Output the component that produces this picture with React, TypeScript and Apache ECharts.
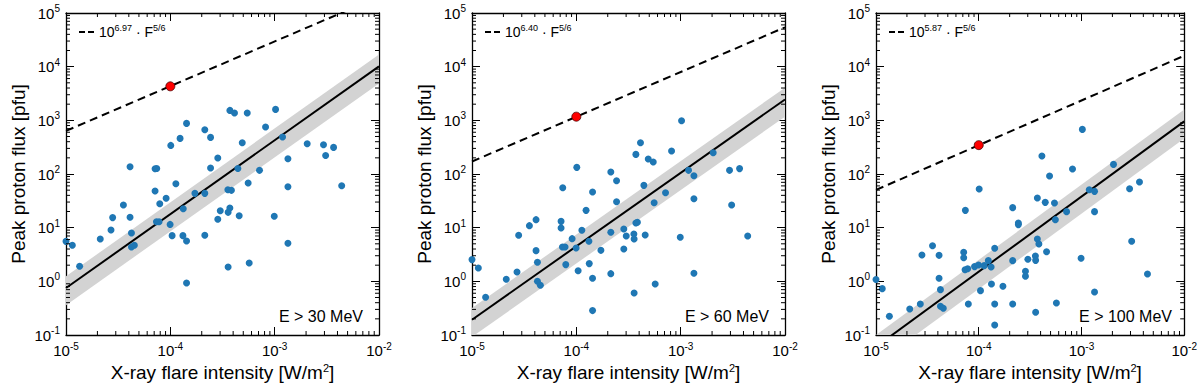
import React, { useEffect, useRef } from "react";
import * as echarts from "echarts";

// ---- Data ----
const flareIntensity = [
  1.0e-5, 1.15e-5, 1.35e-5, 2.13e-5, 2.7e-5, 2.8e-5, 3.55e-5, 4.11e-5, 4.11e-5, 4.24e-5,
  4.24e-5, 4.52e-5, 7.14e-5, 7.14e-5, 7.41e-5, 7.36e-5, 7.8e-5, 7.92e-5, 9.11e-5, 9.95e-5,
  1.01e-4, 1.04e-4, 1.13e-4, 1.24e-4, 1.32e-4, 1.33e-4, 1.43e-4, 1.43e-4, 1.43e-4, 1.72e-4,
  2.14e-4, 2.14e-4, 2.14e-4, 2.43e-4, 2.43e-4, 2.85e-4, 2.85e-4, 3.01e-4, 3.56e-4, 3.58e-4,
  3.58e-4, 3.72e-4, 3.72e-4, 3.85e-4, 4.12e-4, 4.44e-4, 4.57e-4, 4.89e-4, 5.46e-4, 5.57e-4,
  5.7e-4, 7.16e-4, 8.18e-4, 9.91e-4, 1.02e-3, 1.19e-3, 1.34e-3, 1.34e-3, 1.34e-3, 2.05e-3,
  2.94e-3, 3.08e-3, 3.67e-3, 4.39e-3,
];
const peakFlux30 = [
  5.56, 4.69, 1.91, 6.15, 9.05, 15.4, 26.4, 137, 15.6, 7.96,
  4.36, 4.69, 48.2, 125.6, 127, 12.9, 12.9, 28.0, 35.2, 11.5,
  341, 7.1, 66.0, 461, 7.1, 22.6, 877, 5.65, 0.93, 43.6,
  668, 43.6, 7.2, 481, 129, 198, 14.3, 20.7, 51.0, 19.3,
  1.85, 1531, 23.2, 49.6, 1365, 127, 16.7, 383, 1365, 67.9,
  2.2, 117, 749, 16.3, 1600, 488, 193, 58.0, 5.11, 367,
  351, 222, 313, 60.5,
];
const peakFlux60 = [
  2.54, 1.77, 0.504, 1.09, 1.49, 7.2, 10.9, 14.1, 3.73, 2.26,
  1.0, 0.844, 9.86, 13.1, 55.6, 4.36, 4.36, 2.05, 6.24, 4.18,
  133, 1.58, 8.92, 21.0, 5.57, 2.14, 46.2, 1.14, 0.285, 3.78,
  109, 8.19, 1.39, 75.0, 30.5, 9.44, 4.01, 7.0, 7.62, 6.15,
  0.607, 232, 12.2, 12.6, 383, 61.4, 7.3, 190, 167, 29.2,
  0.893, 44.9, 268, 6.61, 984, 117, 93.0, 34.7, 1.41, 249,
  117, 26.4, 126, 7.0,
];
const peakFlux100 = [
  1.08, 0.731, 0.223, 0.306, 0.379, 3.1, 4.62, 3.05, 1.14, 0.7,
  0.343, 0.315, 3.47, 2.76, 21.0, 1.65, 1.72, 0.379, 1.88, 2.02,
  52.5, 0.671, 1.96, 2.43, 1.85, 0.893, 4.12, 0.379, 0.154, 0.808,
  23.6, 2.43, 0.379, 12.2, 11.4, 1.54, 1.24, 2.57, 2.97, 2.46,
  0.265, 35.7, 6.15, 4.96, 216, 29.6, 3.57, 91.6, 28.8, 14.1,
  0.396, 19.9, 124, 2.69, 678, 51.0, 47.5, 19.9, 0.634, 151,
  53.2, 5.57, 70.8, 1.37,
];
const panelFlux = [peakFlux30, peakFlux60, peakFlux100];
const energyLabels = ["E > 30 MeV", "E > 60 MeV", "E > 100 MeV"];
const upperLogCoef = [6.97, 6.4, 5.87];
const upperCoefText = ["6.97", "6.40", "5.87"];
const upperExponent = 5 / 6;
const refFlareX = [1e-4, 1e-4, 1e-4];
const refFlareFlux = [4300, 1170, 345];
const fitLogAtXmin = [-0.125, -0.715, -1.22];
const fitSlope = [1.377, 1.368, 1.4];
const bandUpperDex = 0.22;
const bandLowerDex = 0.32;
const xTickValues = [1e-5, 1e-4, 1e-3, 1e-2];
const yTickValues = [1e-1, 1e0, 1e1, 1e2, 1e3, 1e4, 1e5];
const minorMultipliers = [2, 3, 4, 5, 6, 7, 8, 9];

const X_MIN = xTickValues[0];
const X_MAX = xTickValues[xTickValues.length - 1];
const Y_MIN = yTickValues[0];
const Y_MAX = yTickValues[yTickValues.length - 1];

const FONT = "Liberation Sans";
const gridLefts = [66, 472, 876];
const gridWidths = [313, 313, 312];
const GRID_TOP = 13;
const GRID_H = 322;

function minorValues(ticks: number[]) {
  const out: number[] = [];
  for (let i = 0; i < ticks.length - 1; i++) {
    for (const m of minorMultipliers) out.push(ticks[i] * m);
  }
  return out;
}

function expLabel(v: number) {
  const e = Math.round(Math.log10(v));
  return `{b|10}{s|${e}}`;
}

const labelRich = {
  b: { fontSize: 15, color: "#000", fontFamily: FONT },
  s: { fontSize: 10, color: "#000", fontFamily: FONT, padding: [0, 0, 9, 0] },
};

export default function App() {
  const ref = useRef<HTMLDivElement>(null);

  useEffect(() => {
    if (!ref.current) return;
    const chart = echarts.init(ref.current, undefined, { renderer: "svg" });

    const grid: any[] = [];
    const xAxis: any[] = [];
    const yAxis: any[] = [];
    const series: any[] = [];
    const graphic: any[] = [];

    const axisLine = { show: true, lineStyle: { color: "#000", width: 1.3 } };
    const axisTick = { show: true, inside: true, length: 8, lineStyle: { color: "#000", width: 1 } };

    const minorX = minorValues(xTickValues);
    const minorY = minorValues(yTickValues);

    for (let i = 0; i < 3; i++) {
      grid.push({ left: gridLefts[i], top: GRID_TOP, width: gridWidths[i], height: GRID_H });
      const baseLog = { type: "log", logBase: 10, gridIndex: i, splitLine: { show: false }, axisLine, axisTick };
      xAxis.push({
        ...baseLog, position: "bottom", min: X_MIN, max: X_MAX, interval: 1,
        axisLabel: { show: true, margin: 6, fontSize: 15, fontFamily: FONT, color: "#000", formatter: expLabel, rich: labelRich },
        name: "{n|X-ray flare intensity [W/m}{s|2}{n|]}",
        nameLocation: "middle", nameGap: 26,
        nameTextStyle: {
          fontSize: 19, fontFamily: FONT, color: "#000",
          rich: {
            n: { fontSize: 19, color: "#000", fontFamily: FONT },
            s: { fontSize: 11, color: "#000", fontFamily: FONT, padding: [0, 0, 9, 0] },
          },
        },
      });
      xAxis.push({ ...baseLog, position: "top", min: X_MIN, max: X_MAX, interval: 1, axisLabel: { show: false } });
      yAxis.push({
        ...baseLog, position: "left", min: Y_MIN, max: Y_MAX, interval: 1,
        axisLabel: { show: true, margin: 6, fontSize: 15, fontFamily: FONT, color: "#000", formatter: expLabel, rich: labelRich },
        name: "Peak proton flux [pfu]", nameLocation: "middle", nameGap: 38, nameRotate: 90,
        nameTextStyle: { fontSize: 19, color: "#000", fontFamily: FONT },
      });
      yAxis.push({ ...baseLog, position: "right", min: Y_MIN, max: Y_MAX, interval: 1, axisLabel: { show: false } });

      const xi = 2 * i;
      const yi = 2 * i;
      const a = fitLogAtXmin[i];
      const b = fitSlope[i];
      const decades = Math.log10(X_MAX) - Math.log10(X_MIN);
      const aEnd = a + b * decades;

      // minor ticks on all four sides
      const minorData: any[] = [];
      minorX.forEach((v) => minorData.push([v, Y_MIN, 0]));
      minorY.forEach((v) => minorData.push([X_MIN, v, 1]));
      series.push({
        type: "custom", xAxisIndex: xi, yAxisIndex: yi, silent: true, z: 5,
        data: minorData,
        renderItem: (params: any, api: any) => {
          const cs = params.coordSys;
          const kind = api.value(2);
          const st = { stroke: "#000", lineWidth: 1 };
          if (kind === 0) {
            const p = api.coord([api.value(0), Y_MIN]);
            return {
              type: "group",
              children: [
                { type: "line", shape: { x1: p[0], y1: cs.y + cs.height, x2: p[0], y2: cs.y + cs.height - 4 }, style: st },
                { type: "line", shape: { x1: p[0], y1: cs.y, x2: p[0], y2: cs.y + 4 }, style: st },
              ],
            };
          }
          const p = api.coord([X_MIN, api.value(1)]);
          return {
            type: "group",
            children: [
              { type: "line", shape: { x1: cs.x, y1: p[1], x2: cs.x + 4, y2: p[1] }, style: st },
              { type: "line", shape: { x1: cs.x + cs.width, y1: p[1], x2: cs.x + cs.width - 4, y2: p[1] }, style: st },
            ],
          };
        },
      });

      // gray uncertainty band
      const bandCorners = [
        [X_MIN, Math.pow(10, a + bandUpperDex)],
        [X_MAX, Math.pow(10, aEnd + bandUpperDex)],
        [X_MAX, Math.pow(10, aEnd - bandLowerDex)],
        [X_MIN, Math.pow(10, a - bandLowerDex)],
      ];
      series.push({
        type: "custom", xAxisIndex: xi, yAxisIndex: yi, silent: true, clip: true, z: 1,
        data: [[X_MIN, Y_MIN]],
        renderItem: (params: any, api: any) => {
          const pts = bandCorners.map((c) => api.coord(c));
          return { type: "polygon", shape: { points: pts }, style: { fill: "#d3d3d3" } };
        },
      });

      // fit line
      series.push({
        type: "line", xAxisIndex: xi, yAxisIndex: yi, symbol: "none", clip: true, z: 2,
        data: [[X_MIN, Math.pow(10, a)], [X_MAX, Math.pow(10, aEnd)]],
        lineStyle: { color: "#000", width: 2 },
      });

      // upper bound dashed line 10^c * F^(5/6)
      const c = upperLogCoef[i];
      series.push({
        type: "line", xAxisIndex: xi, yAxisIndex: yi, symbol: "none", clip: true, z: 2,
        data: [
          [X_MIN, Math.pow(10, c + upperExponent * Math.log10(X_MIN))],
          [X_MAX, Math.pow(10, c + upperExponent * Math.log10(X_MAX))],
        ],
        lineStyle: { color: "#000", width: 2, type: [8, 5] },
      });

      // scatter points
      series.push({
        type: "scatter", xAxisIndex: xi, yAxisIndex: yi, symbolSize: 7, z: 3,
        itemStyle: { color: "#1f77b4", opacity: 1 },
        data: flareIntensity.map((x, k) => [x, panelFlux[i][k]]),
      });

      // reference flare
      series.push({
        type: "scatter", xAxisIndex: xi, yAxisIndex: yi, symbolSize: 9, z: 4,
        itemStyle: { color: "#ff0000", borderColor: "#4a0000", borderWidth: 0.8, opacity: 1 },
        data: [[refFlareX[i], refFlareFlux[i]]],
      });

      const gl = gridLefts[i];
      const gr = gl + gridWidths[i];
      graphic.push({
        type: "line", z: 10,
        shape: { x1: gl + 13, y1: 32, x2: gl + 30, y2: 32 },
        style: { stroke: "#000", lineWidth: 2, lineDash: [6, 3] },
      });
      graphic.push({
        type: "text", z: 10, x: gl + 33, y: 32,
        style: {
          text: `{b|10}{s|${upperCoefText[i]}}{b| · F}{s|5/6}`,
          fontSize: 14, fontFamily: FONT, fill: "#000",
          verticalAlign: "middle",
          rich: {
            b: { fontSize: 14, fill: "#000", fontFamily: FONT },
            s: { fontSize: 9, fill: "#000", fontFamily: FONT, padding: [0, 0, 8, 0] },
          },
        },
      });
      graphic.push({
        type: "text", z: 10, x: gr - 16, y: 316,
        style: {
          text: energyLabels[i], fontSize: 16, fill: "#000", fontFamily: FONT,
          align: "right", verticalAlign: "middle",
        },
      });
    }

    chart.setOption({
      animation: false,
      backgroundColor: "#fff",
      textStyle: { fontFamily: FONT },
      grid, xAxis, yAxis, series, graphic,
    });

    return () => chart.dispose();
  }, []);

  return (
    <div
      ref={ref}
      style={{ position: "fixed", left: 0, top: 0, width: 1200, height: 388, background: "#fff" }}
    />
  );
}
